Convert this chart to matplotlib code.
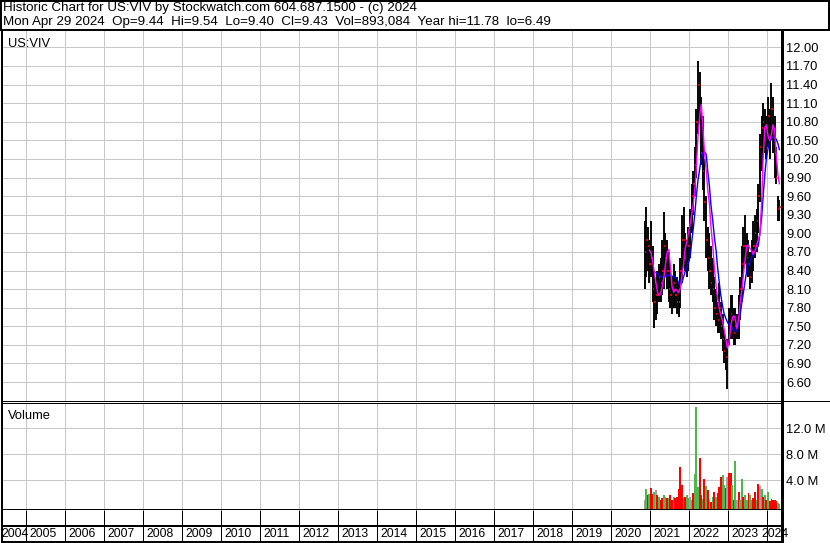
import numpy as np
import pandas as pd
import matplotlib
matplotlib.use("Agg")
import matplotlib.pyplot as plt
from matplotlib.lines import Line2D

plt.rcParams["font.family"] = ["Liberation Sans", "DejaVu Sans"]

# ---- data (one bar per half month, Nov 2020 .. Apr 2024)
highs = [9.20, 9.43, 9.10, 8.90, 9.20, 8.80, 8.40, 8.20, 8.40, 8.50,
         8.60, 8.90, 9.35, 9.00, 8.90, 8.70, 8.40, 8.30, 8.50, 8.40,
         8.30, 8.20, 8.60, 9.30, 9.42, 9.00, 8.90, 9.10, 9.40, 9.80,
         10.00, 10.40, 11.00, 11.78, 11.60, 11.20, 10.90, 10.20, 9.60, 9.10,
         9.00, 8.80, 8.60, 8.30, 8.10, 7.90, 8.20, 7.90, 7.70, 7.40,
         7.30, 7.30, 7.80, 8.00, 8.00, 7.80, 7.80, 7.70, 8.00, 8.30,
         8.80, 9.10, 9.30, 9.00, 8.90, 8.70, 8.90, 9.20, 9.30, 9.40,
         9.80, 10.60, 10.90, 11.10, 11.00, 10.90, 11.20, 11.00, 11.43, 11.20,
         10.90, 10.40, 9.60, 9.54]
lows = [8.10, 8.30, 8.40, 8.20, 8.30, 7.90, 7.48, 7.60, 7.70, 7.90,
        7.90, 8.00, 8.10, 8.30, 8.10, 7.90, 7.80, 7.70, 7.80, 7.80,
        7.70, 7.65, 7.80, 8.20, 8.50, 8.40, 8.30, 8.40, 8.60, 9.00,
        9.30, 9.60, 9.90, 10.60, 10.80, 10.10, 9.70, 9.20, 8.60, 8.40,
        8.10, 8.00, 7.90, 7.60, 7.50, 7.40, 7.40, 7.30, 7.10, 6.90,
        6.80, 6.49, 7.20, 7.30, 7.30, 7.20, 7.20, 7.30, 7.30, 7.60,
        7.90, 8.30, 8.50, 8.40, 8.30, 8.10, 8.20, 8.40, 8.60, 8.70,
        9.00, 9.50, 10.00, 10.30, 10.30, 10.20, 10.40, 10.20, 10.50, 10.30,
        9.90, 9.80, 9.20, 9.20]
closes = [8.70, 8.90, 8.80, 8.50, 8.60, 8.10, 7.90, 8.00, 8.00, 8.30,
          8.20, 8.40, 8.80, 8.60, 8.40, 8.10, 8.00, 8.10, 8.20, 8.00,
          7.90, 7.90, 8.40, 8.90, 8.90, 8.60, 8.50, 8.80, 9.20, 9.60,
          9.80, 10.10, 10.80, 11.40, 11.00, 10.30, 10.00, 9.50, 8.90, 8.60,
          8.40, 8.20, 8.10, 7.80, 7.70, 7.60, 7.80, 7.50, 7.30, 7.10,
          7.00, 7.20, 7.50, 7.70, 7.60, 7.40, 7.50, 7.50, 7.80, 8.10,
          8.50, 8.80, 8.80, 8.60, 8.50, 8.30, 8.70, 8.80, 9.00, 9.20,
          9.60, 10.40, 10.70, 10.80, 10.50, 10.70, 10.90, 10.50, 11.00, 10.60,
          10.30, 9.90, 9.40, 9.43]
ma_short = [np.nan, np.nan, np.nan, 8.73, 8.68, 8.55, 8.35, 8.20, 8.05, 8.00,
            8.03, 8.15, 8.30, 8.50, 8.70, 8.74, 8.45, 8.15, 8.05, 8.10,
            8.08, 8.04, 8.11, 8.30, 8.50, 8.75, 8.86, 9.00, 9.15, 9.30,
            9.50, 9.73, 10.10, 10.55, 10.90, 11.08, 10.70, 10.30, 10.00, 9.70,
            9.46, 9.10, 8.80, 8.45, 8.15, 7.95, 7.78, 7.68, 7.58, 7.45,
            7.30, 7.15, 7.25, 7.50, 7.65, 7.67, 7.60, 7.46, 7.65, 7.90,
            8.10, 8.35, 8.60, 8.80, 8.81, 8.75, 8.72, 8.66, 8.72, 8.81,
            8.90, 8.97, 9.50, 10.20, 10.70, 10.75, 10.56, 10.50, 10.60, 10.75,
            10.68, 10.30, 9.95, 9.80]
ma_long = [np.nan, np.nan, np.nan, np.nan, np.nan, np.nan, np.nan, 8.37, 8.35, 8.32,
           8.30, 8.29, 8.29, 8.30, 8.32, 8.33, 8.33, 8.31, 8.30, 8.29,
           8.27, 8.20, 8.16, 8.20, 8.30, 8.38, 8.45, 8.52, 8.62, 8.85,
           9.10, 9.35, 9.62, 9.85, 10.05, 10.20, 10.30, 10.32, 10.27, 10.00,
           9.75, 9.45, 9.20, 8.95, 8.72, 8.45, 8.20, 8.00, 7.82, 7.70,
           7.63, 7.57, 7.52, 7.50, 7.47, 7.45, 7.42, 7.42, 7.55, 7.70,
           7.90, 8.05, 8.25, 8.40, 8.50, 8.56, 8.62, 8.68, 8.72, 8.75,
           8.80, 9.00, 9.25, 9.60, 9.95, 10.20, 10.38, 10.47, 10.54, 10.55,
           10.55, 10.52, 10.45, 10.35]
volume_m = [1.0, 2.6, 1.75, 1.9, 2.8, 1.9, 2.25, 2.5, 1.75, 1.5,
            1.0, 1.2, 1.75, 1.4, 1.2, 1.2, 1.75, 1.0, 1.5, 1.2,
            1.5, 2.6, 6.1, 3.3, 1.2, 1.5, 1.75, 1.2, 1.4, 1.0,
            2.1, 5.0, 15.3, 3.0, 7.4, 1.75, 1.1, 4.2, 3.1, 2.5,
            1.1, 0.6, 1.5, 2.25, 1.5, 2.0, 3.0, 4.55, 4.8, 3.3,
            2.8, 4.45, 5.1, 5.1, 3.3, 1.0, 6.9, 1.0, 2.25, 1.0,
            4.2, 1.5, 1.75, 1.0, 2.0, 1.75, 1.0, 1.2, 2.25, 1.0,
            3.5, 3.1, 2.6, 1.5, 1.75, 1.0, 2.25, 0.8, 1.1, 1.0,
            1.0, 0.8, 0.5, 0.4]
# g = up, r = down, k = unchanged
volume_dir = list("kgrgrrgkrg" "rrggrgrrgr" "rrrrgrggkg" "rgggrrgrgr"
                  "krgrgrrrgg" "rkrrgrgkrg" "grggrggrrg" "rkgrgrgrrr" "rrgg")
years = list(range(2004, 2025))
price_ticks = [6.60, 6.90, 7.20, 7.50, 7.80, 8.10, 8.40, 8.70, 9.00, 9.30,
               9.60, 9.90, 10.20, 10.50, 10.80, 11.10, 11.40, 11.70, 12.00]
vol_ticks = [4.0, 8.0, 12.0]
header1 = "Historic Chart for US:VIV by Stockwatch.com 604.687.1500 - (c) 2024"
header2 = ("Mon Apr 29 2024  Op=9.44  Hi=9.54  Lo=9.40  Cl=9.43  "
           "Vol=893,084  Year hi=11.78  lo=6.49")

d = pd.date_range("2020-11-01", periods=len(closes), freq="SMS") + pd.Timedelta(days=7)
t = np.asarray(d.year + (d.dayofyear - 0.5) / 365.25, dtype=float)

W, H = 830, 543
PX = 0.72  # one pixel in points


def box(l, top, r, b):
    return [l / W, 1 - b / H, (r - l) / W, (b - top) / H]


fig = plt.figure(figsize=(W / 100, H / 100), dpi=100)
XLIM = (2004.38, 2024.375)
GRID = "#c8c8c8"
FS = 9.3
FS_YEAR = 8.8

ax_p = fig.add_axes(box(2, 30, 782, 401))
ax_v = fig.add_axes(box(2, 403, 782, 510))
ax_x = fig.add_axes(box(2, 510, 782, 542))

# ---- price panel
ax_p.vlines(t, lows, highs, color="black", lw=1.9 * PX)
ax_p.hlines(closes, t, t + 0.035, color="#ff0000", lw=1.8 * PX)
ax_p.plot(t, ma_long, color="#0000ff", lw=1.4 * PX)
ax_p.plot(t, ma_short, color="#ff00ff", lw=1.4 * PX)
ax_p.set_xlim(*XLIM)
ax_p.set_ylim(6.295, 12.28)
ax_p.set_xticks(years[1:])
ax_p.set_yticks(price_ticks)
ax_p.set_yticklabels([f"{v:.2f}" for v in price_ticks])
ax_p.yaxis.tick_right()
ax_p.tick_params(axis="y", length=0, pad=3, labelsize=FS)
ax_p.tick_params(axis="x", length=0, labelbottom=False)
ax_p.grid(True, color=GRID, lw=PX)
ax_p.set_axisbelow(True)
ax_p.text(0.008, 0.962, "US:VIV", transform=ax_p.transAxes, fontsize=FS,
          va="center", ha="left")

# ---- volume panel
vmin = -0.57
vcol = {"g": "#4db84d", "r": "#ff0000", "k": "#a0a0a0"}
ax_v.bar(t, np.array(volume_m) - vmin, bottom=vmin, width=0.05,
         color=[vcol[c] for c in volume_dir], linewidth=0)
ax_v.set_xlim(*XLIM)
ax_v.set_ylim(vmin, 15.89)
ax_v.set_xticks(years[1:])
ax_v.set_yticks(vol_ticks)
ax_v.set_yticklabels([f"{v:.1f} M" for v in vol_ticks])
ax_v.yaxis.tick_right()
ax_v.tick_params(axis="y", length=0, pad=3, labelsize=FS)
ax_v.tick_params(axis="x", length=0, labelbottom=False)
ax_v.grid(True, color=GRID, lw=PX)
ax_v.set_axisbelow(True)
ax_v.text(0.008, 0.88, "Volume", transform=ax_v.transAxes, fontsize=FS,
          va="center", ha="left")

# ---- year strip
ax_x.set_xlim(*XLIM)
ax_x.set_ylim(0, 1)
ax_x.set_xticks([])
ax_x.set_yticks([])
ax_x.vlines(years[1:], 0, 1, color="black", lw=PX)
ax_x.axhline(0.5, color="black", lw=2 * PX)
pxyr = 780 / (XLIM[1] - XLIM[0])
for i, y in enumerate(years):
    if i == 0:
        # first label pushed in so it starts at the left edge
        ax_x.text(XLIM[0] - 1 / pxyr, 0.25, str(y), ha="left", va="center",
                  fontsize=FS_YEAR)
    elif i == len(years) - 1:
        # last year is only a few pixels wide, label runs onto the axis
        ax_x.text(XLIM[1] + 7 / pxyr, 0.25, str(y), ha="right", va="center",
                  fontsize=FS_YEAR)
    else:
        ax_x.text(y + 3.0 / pxyr, 0.25, str(y), ha="left", va="center",
                  fontsize=FS_YEAR, clip_on=True)

for ax in (ax_p, ax_v, ax_x):
    ax.spines["left"].set_linewidth(2 * PX)
    ax.spines["right"].set_linewidth(3 * PX)
    ax.spines["top"].set_visible(False)
    ax.spines["bottom"].set_linewidth(2 * PX)
ax_p.spines["bottom"].set_linewidth(PX)
ax_v.spines["top"].set_visible(True)
ax_v.spines["top"].set_linewidth(PX)
ax_x.spines["right"].set_zorder(5)

# ---- header frame and text
def fline(x0, y0, x1, y1, lw):
    fig.add_artist(Line2D([x0 / W, x1 / W], [1 - y0 / H, 1 - y1 / H],
                          transform=fig.transFigure, color="black", lw=lw * PX))


fline(0, 1, W, 1, 2)
fline(0, 29.5, W, 29.5, 2)
fline(1, 0, 1, 30, 2)
fline(829, 0, 829, 30, 2)
fline(782, 400.7, W, 400.7, 1)

fig.text(3 / W, 1 - 8 / H, header1, fontsize=FS + 0.3, va="center", ha="left")
fig.text(3 / W, 1 - 22 / H, header2, fontsize=FS + 0.3, va="center", ha="left")

fig.savefig("out.png", dpi=100)
